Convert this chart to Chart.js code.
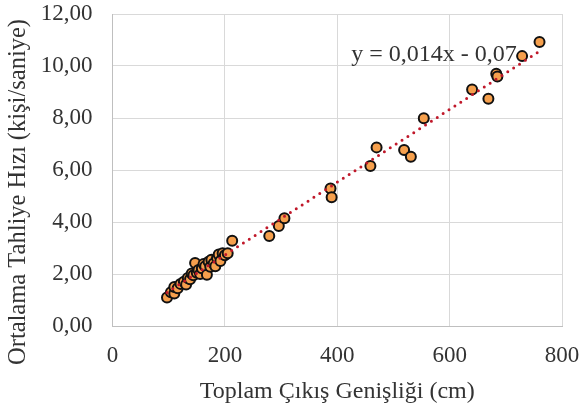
<!DOCTYPE html>
<html>
<head>
<meta charset="utf-8">
<script src="https://cdn.jsdelivr.net/npm/chart.js@4/dist/chart.umd.min.js"></script>
<style>
    html, body { margin: 0; padding: 0; background: #fff; }
    #wrap { width: 582px; height: 410px; }
</style>
</head>
<body>
<div id="wrap"><canvas id="chart1" width="582" height="410"></canvas></div>
<script>
// widths (cm) and rates (kisi/saniye)
const widths = [97, 104, 110, 110, 116, 121, 127, 131, 134, 138, 141, 144, 147, 150, 153, 156,
    159, 162, 165, 168, 171, 174, 176, 180, 183, 186, 189, 192, 196, 200, 205, 213,
    279, 296, 306, 388, 390, 459, 470, 519, 531, 554, 640, 669, 683, 685, 729, 760];
const rates = [1.10, 1.30, 1.25, 1.50, 1.45, 1.62, 1.70, 1.60, 1.85, 1.80, 2.02, 1.95, 2.42, 2.05, 2.15, 2.00,
    2.22, 2.38, 2.30, 1.97, 2.47, 2.28, 2.55, 2.40, 2.30, 2.62, 2.75, 2.50, 2.80, 2.72, 2.80, 3.28,
    3.46, 3.85, 4.14, 5.29, 4.95, 6.15, 6.87, 6.77, 6.51, 7.99, 9.10, 8.74, 9.70, 9.60, 10.38, 10.92];

// trendline ends (y = 0,014x - 0,07)
const trendX = [97, 760];
const trendY = [1.29, 10.57];
const trendLabel = 'y = 0,014x - 0,07';

const xTickLabels = ['0', '200', '400', '600', '800'];
const yTickLabels = ['0,00', '2,00', '4,00', '6,00', '8,00', '10,00', '12,00'];
const yTitle = 'Ortalama Tahliye Hızı (kişi/saniye)';

const FONT = "'Liberation Serif', 'Times New Roman', serif";
const TXT = '#333333';

const points = widths.map((w, i) => ({ x: w, y: rates[i] }));
const trend = trendX.map((t, i) => ({ x: t, y: trendY[i] }));

// equation label + y title (title sits lower than the plot centre in the original)
const textPlugin = {
    id: 'texts',
    afterDatasetsDraw(chart) {
        const ctx = chart.ctx;
        const x = chart.scales.x, y = chart.scales.y;
        ctx.save();
        ctx.font = '24px ' + FONT;
        ctx.fillStyle = TXT;
        ctx.textBaseline = 'middle';
        ctx.textAlign = 'left';
        ctx.fillText(trendLabel, x.getPixelForValue(425), y.getPixelForValue(10.45));

        ctx.translate(19, 192);
        ctx.rotate(-Math.PI / 2);
        ctx.font = '24.5px ' + FONT;
        ctx.textAlign = 'center';
        ctx.fillText(yTitle, 0, 0);
        ctx.restore();
    }
};

var ctx = document.getElementById('chart1').getContext('2d');

var myChart = new Chart(ctx, {
    type: 'scatter',
    data: {
        datasets: [{
            type: 'line',
            data: trend,
            borderColor: '#C0182A',
            borderWidth: 3,
            borderDash: [0, 7],
            borderCapStyle: 'round',
            pointRadius: 0,
            fill: false,
            order: 0
        }, {
            data: points,
            backgroundColor: '#F6A04D',
            borderColor: '#111111',
            borderWidth: 2,
            pointRadius: 5,
            order: 1
        }]
    },
    options: {
        responsive: false,
        animation: false,
        layout: {
            padding: { top: 14, right: 20, bottom: 0, left: 0 }
        },
        plugins: {
            legend: { display: false },
            tooltip: { enabled: false }
        },
        scales: {
            x: {
                type: 'linear',
                min: 0,
                max: 800,
                afterFit: function (s) {
                    s.height = 84;
                    s.paddingLeft = 0;
                    s.paddingRight = 0;
                },
                title: {
                    display: true,
                    text: 'Toplam Çıkış Genişliği (cm)',
                    color: TXT,
                    font: { family: FONT, size: 24 },
                    padding: { top: 0, bottom: 4 }
                },
                ticks: {
                    stepSize: 200,
                    color: TXT,
                    padding: 16,
                    font: { family: FONT, size: 23 },
                    callback: function (v, i) { return xTickLabels[i]; }
                },
                grid: {
                    color: '#d9d9d9',
                    drawTicks: false
                },
                border: { color: '#bfbfbf' }
            },
            y: {
                min: 0,
                max: 12,
                afterFit: function (s) {
                    s.width = 112.5;
                    s.paddingTop = 0;
                    s.paddingBottom = 0;
                },
                ticks: {
                    stepSize: 2,
                    color: TXT,
                    padding: 20,
                    font: { family: FONT, size: 23 },
                    callback: function (v, i) { return yTickLabels[i]; }
                },
                grid: {
                    color: '#d9d9d9',
                    drawTicks: false
                },
                border: { color: '#bfbfbf' }
            }
        }
    },
    plugins: [textPlugin]
});
</script>
</body>
</html>
